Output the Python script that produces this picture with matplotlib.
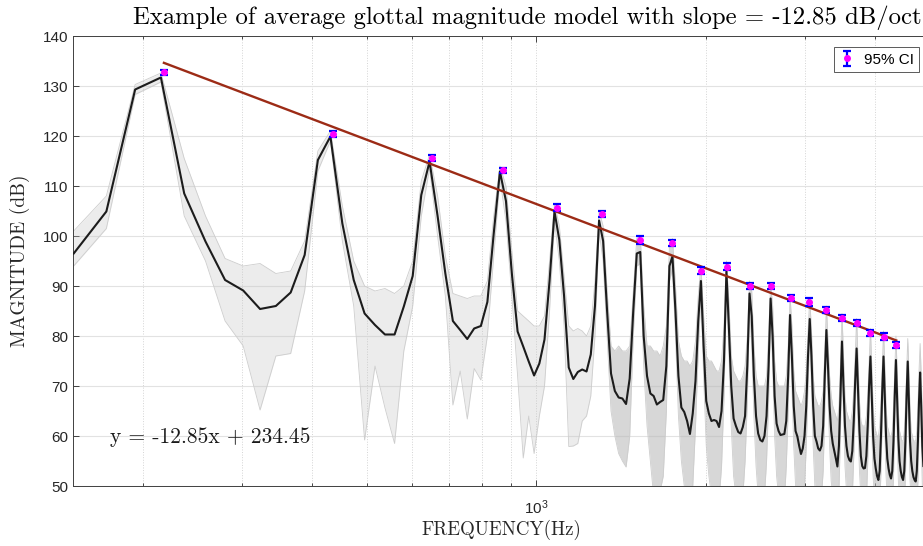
import numpy as np
import matplotlib
matplotlib.use('Agg')
import matplotlib.pyplot as plt
from matplotlib.ticker import FixedLocator, NullFormatter

plt.rcParams['font.family'] = ['Liberation Sans', 'DejaVu Sans']
plt.rcParams['mathtext.fontset'] = 'custom'
plt.rcParams['mathtext.rm'] = 'Liberation Sans'
plt.rcParams['mathtext.it'] = 'Liberation Sans:italic'
plt.rcParams['mathtext.bf'] = 'Liberation Sans:bold'
plt.rcParams['mathtext.default'] = 'regular'
SERIF = ['cmr10', 'DejaVu Serif']

# ---------------- data ----------------
fs_hz = 44100
nfft = 2048
bins = np.arange(7, 227)                  # FFT bin indices shown

# average magnitude spectrum (dB), one value per bin 7..226
mean_db = [
    96.5, 104.9, 129.3, 131.7,
    108.5, 98.9, 91.2, 89.1, 85.4, 86.0, 88.7, 96.2, 115.2, 119.9,
    102.5, 91.2, 84.5, 82.2, 80.3, 80.3, 85.9, 92.0, 108.2, 114.9,
    104.0, 92.5, 83.0, 81.2, 79.4, 81.5, 82.0, 86.8, 100.5, 112.9,
    107.0, 92.5, 80.9, 77.9, 74.9, 72.1, 74.5, 79.3, 91.0, 104.9,
    99.2, 88.0, 73.7, 71.4, 72.8, 73.3, 72.9, 76.3, 86.0, 103.1,
    99.0, 85.0, 72.5, 69.0, 67.7, 67.5, 66.4, 71.5, 85.0, 96.5,
    96.8, 80.0, 72.0, 68.5, 68.0, 66.3, 66.8, 67.2, 74.0, 94.0,
    95.9, 85.0, 72.0, 65.7, 64.8, 63.0, 60.4, 64.5, 71.0, 83.0,
    91.0, 78.0, 67.0, 64.5, 63.0, 63.2, 63.0, 61.8, 65.0, 75.0,
    92.9, 82.0, 70.0, 63.5, 62.0, 60.8, 60.5, 61.8, 64.0, 74.0,
    88.5, 84.0, 72.0, 64.0, 60.5, 59.2, 58.9, 60.0, 64.0, 74.0,
    87.5, 80.0, 68.0, 62.5, 61.0, 60.2, 60.3, 60.4, 63.0, 72.0,
    84.2, 76.0, 66.0, 61.0, 59.9, 58.0, 56.4, 57.5, 60.0, 66.0,
    76.0, 83.4, 76.0, 66.0, 60.0, 58.9, 57.5, 57.1, 58.0, 62.0,
    72.0, 81.2, 74.0, 66.0, 61.0, 58.5, 57.0, 55.5, 53.9, 58.0,
    68.0, 78.9, 70.0, 62.0, 58.0, 56.0, 55.2, 54.9, 57.0, 63.0,
    71.0, 77.5, 69.0, 61.0, 56.0, 54.0, 53.5, 53.6, 56.0, 62.0,
    70.0, 75.9, 68.0, 60.0, 55.5, 53.5, 52.0, 51.2, 53.0, 60.0,
    69.0, 75.9, 68.0, 60.0, 55.5, 53.5, 52.2, 51.5, 53.0, 59.0,
    68.0, 75.2, 67.0, 59.5, 55.0, 53.0, 51.8, 51.2, 53.0, 59.0,
    68.0, 74.9, 67.0, 59.0, 55.0, 53.0, 51.8, 51.2, 50.9, 53.0,
    59.0, 67.0, 72.7, 66.0, 58.0, 54.0,
]

# upper / lower envelope of the individual (gray) spectra, bins 7..226
gray_hi = [
    101, 108, 130.3, 132.6,
    115.5, 104, 95.5, 94, 94.5, 92.5, 93, 99, 117, 121,
    106, 95, 90, 89, 89.5, 88.5, 90, 95, 111, 116.3,
    108, 96, 88.5, 88, 87.5, 88, 88, 91, 104, 114,
    110, 97, 85, 84, 83, 82, 82, 84, 95, 106.5,
    102, 92, 82, 81, 81.5, 81, 80, 82, 91, 105,
    102, 89, 78, 77, 78, 77, 77, 78, 89, 99.5,
    100, 86, 78, 78, 77, 77, 76, 78, 82, 98,
    99.5, 90, 79, 76, 75, 75, 74, 75, 79, 88,
    94, 84, 76, 75, 75, 74, 73, 73, 75, 82,
    95, 87, 76, 73, 72, 71, 71, 72, 74, 80,
    91, 89, 78, 72, 70, 70, 70, 70, 72, 80,
    90.5, 86, 75, 71, 70, 70, 70, 70, 72, 78,
    88, 82, 73, 69, 68, 67, 66, 67, 69, 73,
    81, 87.5, 81, 72, 68, 67, 66, 66, 67, 69,
    77, 86, 79, 72, 68, 66, 65, 64, 63, 66,
    74, 84.5, 76, 68, 65, 64, 63, 63, 65, 69,
    76, 83.5, 75, 67, 63, 62, 62, 62, 64, 68,
    75, 81.5, 74, 66, 62, 61, 60, 60, 62, 67,
    74, 81, 74, 66, 62, 61, 60, 60, 61, 66,
    73, 80, 73, 65, 61, 60, 59, 59, 61, 66,
    73, 79.5, 73, 65, 61, 60, 59, 59, 59, 61,
    66, 73, 78.5, 72, 64, 60,
]
gray_lo = [
    94, 101.5, 128.3, 130.8,
    104, 95, 83, 78, 65.2, 76, 76.5, 89, 113, 119,
    99, 86, 59.2, 74, 65.6, 58.5, 77, 86, 104, 113.5,
    100, 88, 66.2, 73, 63.4, 73.5, 71.2, 80, 96, 111.5,
    103, 88, 72, 55.6, 64, 56.5, 64, 70, 85, 103,
    95, 82, 57.9, 58, 58.5, 63, 64, 68, 80, 101,
    95, 80, 65, 60, 56.5, 55, 53.8, 60, 80, 94,
    94.5, 74, 62, 55, 48, 48, 49, 52, 65, 91,
    93.5, 80, 64, 55, 50, 48, 46, 50, 62, 77,
    88.5, 72, 58, 52, 48, 47, 48, 47, 54, 68,
    90.5, 77, 62, 52, 48, 47, 46, 48, 55, 67,
    86, 78, 64, 54, 48, 46, 46, 48, 55, 67,
    85, 74, 60, 52, 48, 46, 46, 47, 54, 65,
    81.5, 70, 58, 50, 47, 46, 45, 46, 50, 58,
    70, 80.5, 70, 58, 50, 47, 46, 46, 48, 53,
    65, 78.5, 68, 58, 51, 48, 46, 45, 44, 49,
    61, 76, 64, 54, 49, 47, 46, 45, 48, 56,
    65, 74.5, 62, 53, 48, 45, 44, 44, 47, 55,
    64, 73, 61, 52, 47, 45, 44, 43, 45, 53,
    63, 73, 61, 52, 47, 45, 44, 43, 45, 52,
    62, 72, 60, 51, 47, 45, 44, 43, 45, 52,
    62, 71.5, 60, 51, 47, 45, 44, 43, 43, 45,
    51, 61, 69, 59, 50, 46,
]

# harmonic peaks with 95% confidence intervals
harm_freq = [218, 436, 653, 871, 1089, 1307, 1525, 1742, 1960, 2178,
             2396, 2614, 2831, 3049, 3267, 3485, 3703, 3920, 4138, 4356]
peak_db = [132.8, 120.4, 115.7, 113.2, 105.7, 104.4, 99.3, 98.6, 93.1, 93.9,
           90.1, 90.0, 87.6, 86.8, 85.2, 83.6, 82.6, 80.6, 79.9, 78.2]
ci_db = [0.5, 0.6, 0.6, 0.5, 0.7, 0.6, 0.8, 0.6, 0.7, 0.7,
         0.6, 0.6, 0.6, 0.8, 0.6, 0.6, 0.6, 0.6, 0.7, 0.6]

# regression: y = slope * log2(f) + intercept
slope = -12.85
intercept = 234.45

yticks = [50, 60, 70, 80, 90, 100, 110, 120, 130, 140]
x_major = [1000]
x_minor = [200, 300, 400, 500, 600, 700, 800, 900, 2000, 3000, 4000]

# ---------------- plot ----------------
freq = bins * fs_hz / nfft
lo_arr = np.array(gray_lo, dtype=float)
hi_arr = np.array(gray_hi, dtype=float)
dense = bins >= 61          # region where the gray curves pile up densely

fig = plt.figure(figsize=(9.23, 5.46), dpi=100)
W, H = 923.0, 546.0
ax = fig.add_axes([72.5 / W, 60 / H, 857.5 / W, 450 / H])
ax.set_xscale('log')
ax.set_xlim(150, 5000)
ax.set_ylim(50, 140)

ax.fill_between(freq, lo_arr, hi_arr, color='#c4c4c4', alpha=0.32, lw=0, zorder=1)
ax.fill_between(freq[dense], lo_arr[dense], hi_arr[dense], color='#b0b0b0',
                alpha=0.35, lw=0, zorder=1.2)
ax.plot(freq, hi_arr, color='#cdcdcd', lw=0.6, zorder=1.5)
ax.plot(freq, lo_arr, color='#cdcdcd', lw=0.6, zorder=1.5)
ax.plot(freq, mean_db, color='#1c1c1c', lw=1.5, zorder=3)

xr = np.array([harm_freq[0], harm_freq[-1]], dtype=float)
ax.plot(xr, slope * np.log2(xr) + intercept, color='#9c2b16', lw=1.7, zorder=4)

eb = ax.errorbar(harm_freq, peak_db, yerr=ci_db, fmt='o', color='#0000ff',
                 ecolor='#0000ff', mfc='#ff00ff', mec='#ff00ff', ms=4,
                 elinewidth=1.6, capsize=3, capthick=1.6, zorder=5, label='95% CI')

ax.set_yticks(yticks)
ax.xaxis.set_major_locator(FixedLocator(x_major))
ax.xaxis.set_minor_locator(FixedLocator(x_minor))
ax.xaxis.set_minor_formatter(NullFormatter())

ax.set_axisbelow(True)
ax.grid(which='major', axis='y', color='#e2e2e2', lw=0.8, ls='-')
ax.grid(which='both', axis='x', color='#d4d4d4', lw=0.7, ls=':')

ax.tick_params(which='both', direction='in', top=True, right=True,
               colors='#262626', width=0.6, labelsize=11)
ax.tick_params(which='major', length=4)
ax.tick_params(which='minor', length=2.5)
ax.tick_params(axis='x', which='major', pad=9)
ax.tick_params(axis='y', which='major', pad=3)
for s in ax.spines.values():
    s.set_color('#404040')
    s.set_linewidth(0.7)

leg = ax.legend(handles=[eb], labels=['95% CI'], loc='upper right',
                bbox_to_anchor=(919.3 / W, 1 - 47.3 / H), bbox_transform=fig.transFigure,
                fontsize=11, frameon=True, fancybox=False, framealpha=1,
                edgecolor='#404040', handlelength=1.0, handletextpad=0.6,
                borderpad=0.35, borderaxespad=0)
leg.get_frame().set_linewidth(0.6)

fig.text(133 / W, 1 - 24 / H,
         'Example of average glottal magnitude model with slope = -12.85 dB/oct',
         family=SERIF, fontsize=17.8, ha='left', va='baseline', color='black')
fig.text(20 / W, 1 - 261 / H, 'MAGNITUDE (dB)', family=SERIF, fontsize=14,
         rotation=90, ha='center', va='center', color='#262626')
fig.text(501.7 / W, 1 - 529.5 / H, 'FREQUENCY(Hz)', family=SERIF, fontsize=13.6,
         ha='center', va='center', color='#262626')
ax.text((110 - 72.5) / 857.5, (486 - 442.7) / 450, 'y = -12.85x + 234.45',
        transform=ax.transAxes, family=SERIF, fontsize=15.5, ha='left',
        va='baseline', color='#1a1a1a')

fig.savefig('out.png', dpi=100)
